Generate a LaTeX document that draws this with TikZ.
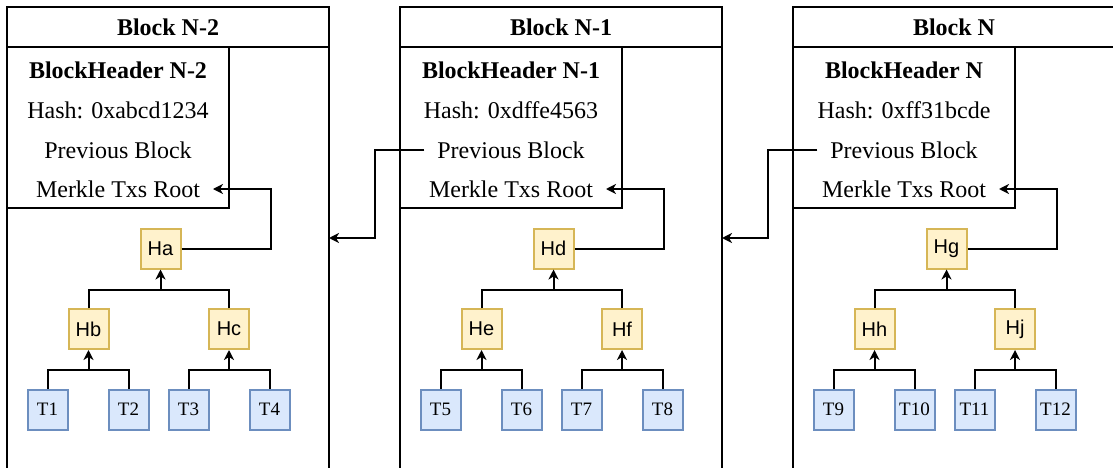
\documentclass[tikz,border=0pt]{standalone}
\usepackage{fontspec}
\setmainfont{Liberation Serif}
\setsansfont{Liberation Sans}
\usepackage{xcolor}
\usetikzlibrary{arrows.meta}

\definecolor{hashfill}{HTML}{FFF2CC}
\definecolor{hashline}{HTML}{D6B656}
\definecolor{txfill}{HTML}{DAE8FC}
\definecolor{txline}{HTML}{6C8EBF}

\begin{document}
\begin{tikzpicture}[x=1pt, y=-1pt, line width=2pt,
  ttl/.style={draw, minimum width=322pt, minimum height=40pt, font=\bfseries\fontsize{24}{28}\selectfont},
  hdr/.style={draw, minimum width=222pt, minimum height=161pt},
  ln/.style={inner xsep=12pt, inner ysep=2pt, font=\fontsize{24}{28}\selectfont},
  hs/.style={draw=hashline, fill=hashfill, minimum size=40pt, inner sep=0pt, font=\sffamily\fontsize{20}{24}\selectfont},
  tx/.style={draw=txline, fill=txfill, minimum size=40pt, inner sep=0pt, font=\fontsize{19}{23}\selectfont},
  ar/.style={-{Stealth[length=10pt, width=10pt, inset=3pt]}}]
\useasboundingbox (0,0) rectangle (1113,468);
\clip (0,0) rectangle (1113,468);
\foreach \i/\bx/\n/\h/\ra/\rb/\rc/\ta/\tb/\tc/\td in
  {0/7/N-2/0xabcd1234/a/b/c/1/2/3/4,
   1/400/N-1/0xdffe4563/d/e/f/5/6/7/8,
   2/793/N/0xff31bcde/g/h/j/9/10/11/12} {
  \draw (\bx,7) rectangle (\bx+322,500);
  \node[ttl] (ttl\i) at (\bx+161,27) {Block \n};
  \node[hdr] (hdr\i) at (\bx+111,127.5) {};
  \node[ln] (bh\i) at (\bx+111,70) {\textbf{BlockHeader \n}};
  \node[ln] (hash\i) at (\bx+111,110) {Hash: \h};
  \node[ln] (prev\i) at (\bx+111,150) {Previous Block};
  \node[ln] (mrk\i) at (\bx+111,189) {Merkle Txs Root};
  % merkle tree
  \node[hs] (r\i) at (\bx+153.5,248.5) {H\ra};
  \node[hs] (l\i) at (\bx+81.5,329) {H\rb};
  \node[hs] (m\i) at (\bx+222,329) {H\rc};
  \node[tx] (ta\i) at (\bx+40.5,409.5) {T\ta};
  \node[tx] (tb\i) at (\bx+121.5,409.5) {T\tb};
  \node[tx] (tc\i) at (\bx+181.5,409.5) {T\tc};
  \node[tx] (td\i) at (\bx+262.5,409.5) {T\td};
  \coordinate (in\i) at (\bx+322,238);
  \coordinate (jog\i) at (\bx-25,238);
  \draw[ar] (ta\i.north) |- ([yshift=-20pt]l\i.south) -- (l\i.south);
  \draw (tb\i.north) |- ([yshift=-20pt]l\i.south);
  \draw[ar] (tc\i.north) |- ([yshift=-20pt]m\i.south) -- (m\i.south);
  \draw (td\i.north) |- ([yshift=-20pt]m\i.south);
  \draw[ar] (l\i.north) |- ([yshift=-20pt]r\i.south) -- (r\i.south);
  \draw (m\i.north) |- ([yshift=-20pt]r\i.south);
  \draw[ar] (r\i.east) -- ++(89,0) |- (mrk\i.east);
}
% links to the previous block
\draw[ar] (prev1.west) -| (jog1) -- (in0);
\draw[ar] (prev2.west) -| (jog2) -- (in1);
\end{tikzpicture}
\end{document}
